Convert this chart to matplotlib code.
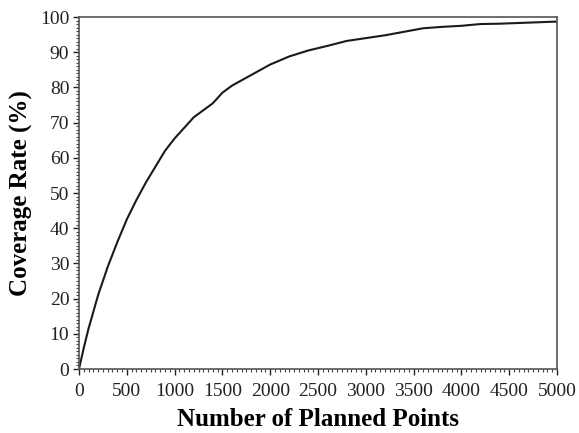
import matplotlib
matplotlib.use("Agg")
import matplotlib.pyplot as plt
from matplotlib.ticker import MultipleLocator

planned_points = [0, 50, 100, 200, 300, 400, 500, 600, 700, 800, 900, 1000,
                  1100, 1200, 1300, 1400, 1500, 1600, 1800, 2000, 2200, 2400,
                  2600, 2800, 3000, 3200, 3400, 3600, 3800, 4000, 4200, 4400,
                  4600, 4800, 5000]
coverage_rate = [0, 6, 11.5, 21, 29, 36, 42.5, 48, 53, 57.5, 62, 65.5,
                 68.5, 71.5, 73.5, 75.5, 78.5, 80.5, 83.5, 86.5, 88.8, 90.5,
                 91.8, 93.2, 94, 94.8, 95.8, 96.8, 97.2, 97.5, 98, 98.1,
                 98.3, 98.5, 98.7]

plt.rcParams['font.family'] = ['Liberation Serif', 'DejaVu Serif']

fig = plt.figure(figsize=(5.79, 4.33), dpi=100)
ax = fig.add_axes([79/579, 1-369/433, 478/579, 352/433])
ax.plot(planned_points, coverage_rate, color='#1a1a1a', lw=1.5)
ax.set_xlim(0, 5000)
ax.set_ylim(0, 100)
ax.xaxis.set_major_locator(MultipleLocator(500))
ax.xaxis.set_minor_locator(MultipleLocator(50))
ax.yaxis.set_major_locator(MultipleLocator(10))
ax.yaxis.set_minor_locator(MultipleLocator(1))
ax.tick_params(which='major', direction='out', length=4, width=1, labelsize=14, colors='#222222', pad=3)
ax.tick_params(axis='x', which='major', pad=6)
ax.tick_params(which='minor', direction='out', length=2, width=0.8, colors='#444444')
ax.tick_params(top=False, right=False, which='both')
for s in ax.spines.values():
    s.set_color('#555555')
    s.set_linewidth(1.2)
ax.set_xlabel('Number of Planned Points', fontsize=18, fontweight='bold', labelpad=6)
ax.set_ylabel('Coverage Rate (%)', fontsize=18, fontweight='bold', labelpad=5)
fig.savefig('out.png', dpi=100)
